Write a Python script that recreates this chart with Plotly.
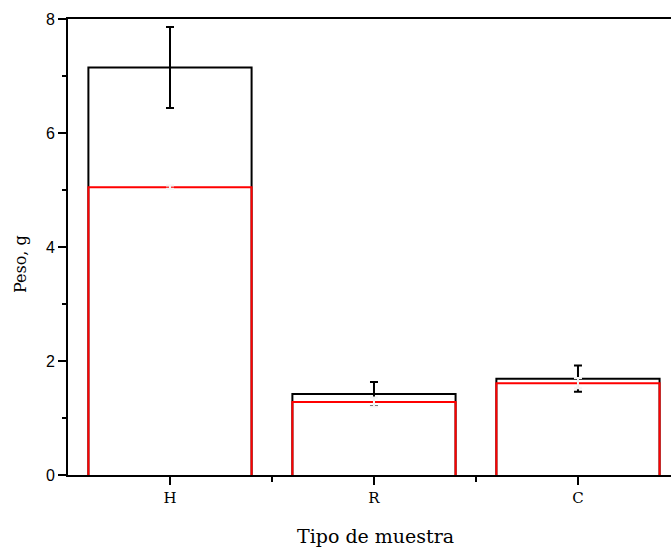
import plotly.graph_objects as go

categories = ["H", "R", "C"]
x_pos = [0, 1, 2]
black_values = [7.15, 1.42, 1.69]
black_errors = [0.71, 0.21, 0.23]
red_values = [5.05, 1.28, 1.61]
red_errors = [0.03, 0.08, 0.09]
y_ticks = [0, 2, 4, 6, 8]

# bars start slightly below the axis so their bottom outline is hidden under it
BASE = -0.05

fig = go.Figure()
fig.add_trace(go.Bar(
    x=x_pos, y=[v - BASE for v in black_values], base=BASE, width=0.8,
    marker=dict(color="rgba(0,0,0,0)", line=dict(color="black", width=2)),
    error_y=dict(type="data", array=black_errors, color="black", thickness=2, width=4),
    showlegend=False,
))
fig.add_trace(go.Bar(
    x=x_pos, y=[v - BASE for v in red_values], base=BASE, width=0.8,
    marker=dict(color="rgba(0,0,0,0)", line=dict(color="red", width=2)),
    error_y=dict(type="data", array=red_errors, color="#f4f4f4", thickness=2, width=4),
    showlegend=False,
))

L, T, B = 68, 19, 73
W, H = 671, 548
pw, ph = W - L, H - T - B

fig.update_layout(
    barmode="overlay",
    width=W, height=H,
    margin=dict(l=L, r=0, t=T, b=B),
    paper_bgcolor="white", plot_bgcolor="white",
    font=dict(family="Liberation Sans", color="black"),
    annotations=[
        dict(text="Tipo de muestra", xref="paper", yref="paper",
             x=(375 - L) / pw, y=-(536 - (T + ph)) / ph,
             xanchor="center", yanchor="middle", showarrow=False,
             font=dict(family="DejaVu Serif", size=19, color="black")),
        dict(text="Peso, g", xref="paper", yref="paper", textangle=-90,
             x=(20 - L) / pw, y=((T + ph) - 264) / ph,
             xanchor="center", yanchor="middle", showarrow=False,
             font=dict(family="DejaVu Serif", size=16, color="black")),
    ],
)
fig.update_xaxes(
    range=[-0.5, 2.456],
    tickmode="array", tickvals=x_pos, ticktext=categories,
    tickfont=dict(family="DejaVu Serif", size=15),
    ticks="outside", ticklen=8, tickwidth=2, tickcolor="black",
    minor=dict(tickmode="array", tickvals=[0.5, 1.5], ticks="outside", ticklen=5, tickwidth=2, tickcolor="black"),
    showline=True, linecolor="black", linewidth=2, mirror=True,
    showgrid=False, zeroline=False, layer="above traces",
)
fig.update_yaxes(
    range=[0, 8],
    tickmode="array", tickvals=y_ticks,
    tickfont=dict(family="Liberation Sans", size=16),
    ticks="outside", ticklen=8, tickwidth=2, tickcolor="black",
    minor=dict(tickmode="array", tickvals=[1, 3, 5, 7], ticks="outside", ticklen=4, tickwidth=2, tickcolor="black"),
    showline=True, linecolor="black", linewidth=2,
    showgrid=False, zeroline=False, layer="above traces",
)

fig.write_html("out.html")
